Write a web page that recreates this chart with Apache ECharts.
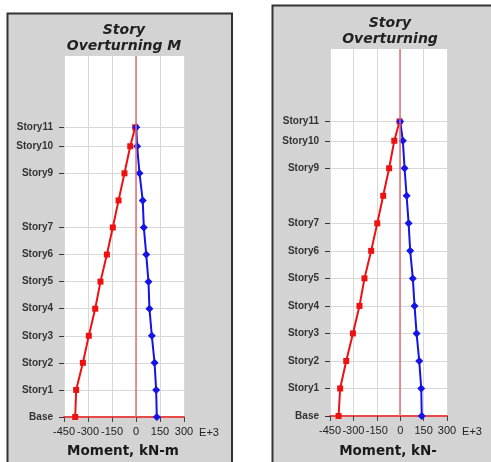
<!DOCTYPE html>
<html>
<head>
<meta charset="utf-8">
<script src="https://cdn.jsdelivr.net/npm/echarts@6/dist/echarts.min.js"></script>
<style>
html,body{margin:0;padding:0;background:#fff;}
#chart{width:491px;height:462px;}
</style>
</head>
<body>
<div id="chart"></div>
<script>
// ---- data ----
const stories = ['Base','Story1','Story2','Story3','Story4','Story5','Story6','Story7','Story8','Story9','Story10','Story11'];
const elevations = [0,3,6,9,12,15,18,21,24,27,30,32.1];
const labeledStories = ['Base','Story1','Story2','Story3','Story4','Story5','Story6','Story7','Story9','Story10','Story11'];
const leftMin  = [-380,-374,-332,-295,-255,-222,-182,-145,-109,-72,-36,-5];
const leftMax  = [130,126,116,99,84,78,64,49,42,22,7,2];
const rightMin = [-395,-385,-346,-303,-261,-229,-186,-147,-109,-71,-38,-4];
const rightMax = [138,135,122,105,92,81,64,54,41,28,17,0];
const xMin = -450, xMax = 300, xStep = 150;
const yMin = 0, yMax = 40;
const leftTitle = 'Story\nOverturning M';
const rightTitle = 'Story\nOverturning';
const leftXLabel = 'Moment, kN-m';
const rightXLabel = 'Moment, kN-';
const unitLabel = 'E+3';

const labelElev = labeledStories.map(s => elevations[stories.indexOf(s)]);
const pairs = (xs) => xs.map((x, i) => [x, elevations[i]]);

function xAxisDef(idx) {
  return {
    type: 'value', gridIndex: idx, min: xMin, max: xMax, interval: xStep,
    name: unitLabel, nameLocation: 'end', nameGap: 9,
    nameTextStyle: {color: '#222', fontSize: 11, fontFamily: 'Liberation Sans', verticalAlign: 'top', padding: [10, 0, 0, 0]},
    axisLine: {show: true, onZero: false, lineStyle: {color: '#e84848', width: 2}},
    axisTick: {show: true, inside: false, length: 5, lineStyle: {color: '#444'}},
    axisLabel: {color: '#222', fontSize: 11, fontFamily: 'Liberation Sans', margin: 9},
    splitLine: {show: true, lineStyle: {color: '#d8d8d8', width: 1}}
  };
}
function yAxisDef(idx) {
  return {
    type: 'value', gridIndex: idx, min: yMin, max: yMax,
    axisLine: {show: false, onZero: false},
    axisTick: {show: true, length: 5, customValues: labelElev, lineStyle: {color: '#333'}},
    axisLabel: {
      customValues: labelElev, color: '#333', fontSize: 10, fontWeight: 'bold',
      fontFamily: 'Liberation Sans', margin: 11,
      formatter: v => {
        let k = 0, best = Infinity;
        elevations.forEach((e, i) => { const d = Math.abs(e - v); if (d < best) { best = d; k = i; } });
        return stories[k];
      }
    },
    splitLine: {show: true, lineStyle: {color: '#d8d8d8', width: 1}}
  };
}
function seriesPair(idx, minVals, maxVals) {
  return [
    {
      type: 'line', xAxisIndex: idx, yAxisIndex: idx, data: pairs(minVals),
      symbol: 'rect', symbolSize: 6, showSymbol: true,
      lineStyle: {color: '#ee1111', width: 2}, itemStyle: {color: '#ee1111'},
      z: 3,
      markLine: {
        silent: true, symbol: 'none', label: {show: false},
        lineStyle: {color: '#e07070', width: 1.5, type: 'solid'},
        data: [{xAxis: 0}]
      }
    },
    {
      type: 'line', xAxisIndex: idx, yAxisIndex: idx, data: pairs(maxVals),
      symbol: 'diamond', symbolSize: 8, showSymbol: true,
      lineStyle: {color: '#1414e6', width: 2}, itemStyle: {color: '#1414e6'},
      z: 3
    }
  ];
}

const chart = echarts.init(document.getElementById('chart'), null, {renderer: 'canvas'});
const titleStyle = {fontFamily: 'DejaVu Sans', fontSize: 14, fontWeight: 'bold', fontStyle: 'italic', color: '#222', lineHeight: 16};
const xLabStyle = {fontFamily: 'DejaVu Sans', fontSize: 13.5, fontWeight: 'bold', color: '#1a1a1a'};
chart.setOption({
  animation: false,
  backgroundColor: '#fff',
  title: [
    {text: leftTitle, left: 119, top: 17, textAlign: 'center', textStyle: titleStyle},
    {text: rightTitle, left: 385, top: 10, textAlign: 'center', textStyle: titleStyle},
    {text: leftXLabel, left: 118, top: 439, textAlign: 'center', textStyle: xLabStyle},
    {text: rightXLabel, left: 383, top: 439, textAlign: 'center', textStyle: xLabStyle}
  ],
  graphic: [
    {type: 'rect', z: -10, shape: {x: 7.5, y: 13.5, width: 224.5, height: 460}, style: {fill: '#d3d3d3', stroke: '#333', lineWidth: 2}},
    {type: 'rect', z: -10, shape: {x: 272.5, y: 5.5, width: 240, height: 470}, style: {fill: '#d3d3d3', stroke: '#333', lineWidth: 2}}
  ],
  grid: [
    {left: 64, right: 307, top: 56, bottom: 45, show: true, backgroundColor: '#fff', borderWidth: 0},
    {left: 330, right: 44, top: 49, bottom: 46, show: true, backgroundColor: '#fff', borderWidth: 0}
  ],
  xAxis: [xAxisDef(0), xAxisDef(1)],
  yAxis: [yAxisDef(0), yAxisDef(1)],
  series: [].concat(seriesPair(0, leftMin, leftMax), seriesPair(1, rightMin, rightMax))
});
</script>
</body>
</html>
